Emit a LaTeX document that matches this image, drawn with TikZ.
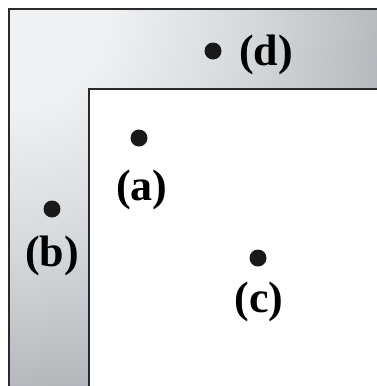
\documentclass[tikz,border=0pt]{standalone}
\usepackage{fontspec}
\setmainfont{Liberation Serif}
\definecolor{bandlight}{HTML}{EFF1F3}
\definecolor{bandmid}{HTML}{D6D9DC}
\definecolor{banddark}{HTML}{B3B7BB}
\definecolor{edge}{HTML}{2B2B2B}
\pgfdeclareradialshading{cornershade}{\pgfpoint{0bp}{0bp}}{%
  color(0bp)=(bandlight); color(6bp)=(bandlight); color(15bp)=(bandmid);
  color(24bp)=(banddark); color(50bp)=(banddark)}
\begin{document}
\begin{tikzpicture}[x=1pt,y=-1pt,
  dotmark/.style={circle,fill=black!90,inner sep=0pt,minimum size=17pt},
  lab/.style={inner sep=0pt,font=\bfseries\fontsize{44}{52}\selectfont}]
\useasboundingbox (0,0) rectangle (377,386);
\begin{scope}
  \clip (9,9) -- (377,9) -- (377,89) -- (89,89) -- (89,386) -- (9,386) -- cycle;
  \shade[shading=cornershade] (9,9) circle (400);
\end{scope}
\draw[edge,line width=2pt] (377,9) -- (9,9) -- (9,386);
\draw[edge,line width=2pt] (377,89) -- (89,89) -- (89,386);
\node[dotmark] (pa) at (139,138) {};
\node[lab] (la) at (142,190) {(a)};
\node[dotmark] (pb) at (52,209) {};
\node[lab] (lb) at (52,256) {(b)};
\node[dotmark] (pc) at (258,258) {};
\node[lab] (lc) at (259,302) {(c)};
\node[dotmark] (pd) at (213,51) {};
\node[lab] (ld) at (266,55) {(d)};
\end{tikzpicture}
\end{document}
